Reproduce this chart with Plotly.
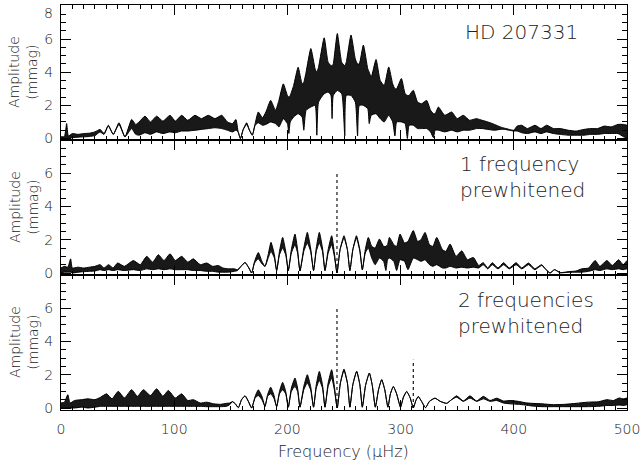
import plotly.graph_objects as go

# ---------------- data ----------------
# Each panel: frequency grid (muHz), upper and lower envelope of the amplitude (mmag)
p1_freq = [0, 3, 5, 6.5, 10, 15, 20, 25, 30, 34.5, 38, 41.8, 46.2, 51.2, 56.5, 62.4, 66, 69, 74.2, 79,
           84.5, 90, 96.3, 101, 106.6, 112, 118.4, 124, 130.2, 136, 142, 147, 151.5, 154.5, 156.5, 158.5,
           161, 164, 166.5, 169, 171.5, 174.3, 178, 181, 185.2, 189.5, 192.5, 196.4, 200, 201.3, 202.5,
           205.5, 209.5, 213, 214.5, 216.5, 220.7, 224.5, 226, 227.5, 232.5, 236, 238.5, 239.5, 240.5, 244.1,
           248, 250.7, 252, 256.2, 260, 262, 263.5, 267.1, 271, 272.3, 274, 278.3, 282, 285.5, 289.5, 293,
           295, 296.5, 300.7, 304, 306, 307.5, 311.2, 315, 318.5, 323, 326.5, 329, 330.5, 333.4, 339, 345.1,
           350, 355.4, 361, 367, 372, 377, 383, 388, 392, 396, 400, 403, 407, 412, 418.7, 424, 429, 435, 441,
           448, 455, 462, 468, 474, 480, 486, 492, 497, 500]
p1_upper = [0.10, 0.12, 0.90, 0.15, 0.30, 0.25, 0.30, 0.32, 0.40, 0.55, 0.30, 0.80, 0.25, 0.95, 0.10, 1.15,
            0.85, 1.00, 1.35, 1.00, 1.35, 1.05, 1.40, 1.05, 1.40, 1.10, 1.40, 1.20, 1.40, 1.20, 1.40, 1.00,
            0.90, 1.15, 0.40, 0.00, 0.55, 0.95, 0.50, 0.20, 0.90, 1.60, 1.25, 1.60, 2.30, 1.70, 2.30, 3.30,
            2.60, 2.50, 2.60, 3.20, 4.30, 3.30, 3.40, 4.00, 5.43, 4.20, 4.00, 4.30, 6.08, 4.60, 4.40, 4.40,
            4.50, 6.34, 4.60, 4.40, 4.60, 6.25, 4.80, 4.50, 4.50, 5.64, 4.20, 4.00, 3.70, 4.77, 3.50, 3.20,
            4.32, 3.30, 3.00, 3.00, 3.62, 2.70, 2.60, 2.60, 2.91, 2.20, 2.10, 2.30, 1.70, 1.50, 1.50, 1.90,
            1.40, 1.60, 1.20, 1.40, 1.10, 1.20, 1.10, 1.00, 0.85, 0.70, 0.62, 0.55, 0.50, 0.75, 0.80, 0.60,
            0.80, 0.60, 0.80, 0.60, 0.60, 0.50, 0.45, 0.55, 0.60, 0.60, 0.75, 0.70, 0.85, 0.85, 0.80]
p1_lower = [0.00, 0.00, 0.00, 0.00, 0.05, 0.08, 0.10, 0.12, 0.18, 0.40, 0.25, 0.75, 0.25, 0.85, 0.10, 0.60,
            0.25, 0.20, 0.35, 0.25, 0.40, 0.30, 0.40, 0.35, 0.45, 0.45, 0.50, 0.55, 0.60, 0.65, 0.60, 0.50,
            0.40, 0.50, 0.40, 0.00, 0.55, 0.85, 0.50, 0.20, 0.80, 0.95, 0.80, 0.85, 1.00, 0.90, 0.70, 1.20,
            0.90, 0.30, 1.00, 1.30, 1.50, 1.30, 0.50, 1.70, 1.90, 2.00, 0.20, 2.20, 2.70, 2.80, 2.60, 1.20,
            2.60, 2.90, 2.70, 0.15, 2.60, 2.60, 2.20, 0.15, 2.00, 2.00, 1.80, 0.90, 1.40, 1.50, 1.20, 1.00,
            1.40, 1.00, 0.15, 1.00, 1.00, 0.90, 0.00, 0.80, 0.80, 0.60, 0.60, 0.60, 0.40, 0.05, 0.50, 0.50,
            0.40, 0.50, 0.40, 0.50, 0.50, 0.60, 0.60, 0.55, 0.50, 0.55, 0.55, 0.50, 0.45, 0.45, 0.35, 0.30,
            0.40, 0.30, 0.40, 0.30, 0.25, 0.20, 0.20, 0.20, 0.25, 0.25, 0.30, 0.30, 0.30, 0.10, 0.00]

p2_freq = [0, 3, 6, 8.5, 10, 15, 20, 25, 30, 34.5, 38, 42, 46, 50, 56, 63.9, 70, 75.7, 81, 86, 91, 96.3,
           101, 106.6, 112, 116.9, 123, 128.7, 134, 139, 143, 148, 153, 156, 159, 162.6, 166, 168.4, 171,
           174.3, 177.5, 180.2, 183, 185.5, 188.5, 190.5, 193, 195.8, 198.5, 200.8, 203.5, 206.7, 209,
           211.1, 214.5, 217.6, 220.5, 223.1, 225.5, 228.2, 231, 233.2, 236, 239.1, 241.5, 243.8, 246.5,
           250, 253, 255.2, 257.8, 261, 264, 266.2, 268.8, 271.5, 274.5, 277.5, 281.3, 285, 287, 288.5,
           290.1, 294, 296.5, 299.5, 303.5, 306.5, 311.2, 315, 318, 321.6, 325.5, 328.5, 331.9, 337, 340,
           343.7, 349, 354, 359, 364.3, 369, 373, 377, 381, 386, 391, 396, 402, 407, 413, 418.5, 424.6,
           428.5, 432, 436, 441, 448, 455, 460, 466, 471.9, 476, 482.2, 487, 492.6, 496.5, 500]
p2_upper = [0.30, 0.40, 0.35, 0.85, 0.30, 0.35, 0.30, 0.35, 0.40, 0.50, 0.30, 0.50, 0.30, 0.60, 0.40, 0.75,
            0.50, 1.00, 0.65, 1.10, 0.75, 1.15, 0.75, 1.00, 0.65, 0.85, 0.50, 0.60, 0.40, 0.45, 0.30, 0.25,
            0.25, 0.20, 0.40, 0.63, 0.30, 0.00, 0.70, 1.23, 0.70, 0.40, 1.10, 1.84, 1.10, 0.15, 1.30, 2.14,
            1.30, 0.15, 1.40, 2.34, 1.40, 0.12, 1.50, 2.44, 1.50, 0.15, 1.50, 2.44, 1.50, 0.15, 1.40, 2.24,
            1.20, 0.00, 1.40, 2.24, 1.40, 0.15, 1.40, 2.24, 1.40, 0.20, 1.40, 2.14, 1.60, 1.50, 2.04, 1.60,
            1.60, 1.70, 2.14, 1.70, 1.60, 2.34, 1.80, 1.90, 2.55, 1.90, 2.00, 2.44, 1.70, 1.60, 2.14, 1.40,
            1.30, 1.74, 1.00, 1.33, 0.80, 0.93, 0.45, 0.62, 0.30, 0.62, 0.30, 0.62, 0.30, 0.62, 0.30, 0.60,
            0.25, 0.50, 0.20, 0.00, 0.20, 0.02, 0.08, 0.12, 0.25, 0.30, 0.75, 0.40, 0.75, 0.45, 0.80, 0.50,
            0.75]
p2_lower = [0.00, 0.05, 0.05, 0.05, 0.00, 0.05, 0.08, 0.10, 0.12, 0.20, 0.15, 0.20, 0.15, 0.20, 0.15, 0.20,
            0.15, 0.25, 0.20, 0.25, 0.20, 0.25, 0.20, 0.20, 0.20, 0.15, 0.15, 0.10, 0.10, 0.05, 0.05, 0.05,
            0.10, 0.15, 0.40, 0.63, 0.30, 0.00, 0.60, 0.85, 0.55, 0.40, 0.90, 1.30, 0.90, 0.15, 1.10, 1.50,
            1.10, 0.15, 1.20, 1.70, 1.20, 0.12, 1.30, 1.80, 1.30, 0.15, 1.30, 1.80, 1.30, 0.15, 1.20, 1.70,
            1.00, 0.00, 1.40, 2.10, 1.40, 0.15, 1.40, 2.10, 1.30, 0.20, 1.20, 1.50, 0.90, 0.50, 0.90, 0.70,
            0.15, 0.80, 0.90, 0.70, 0.15, 0.80, 0.70, 0.20, 0.90, 0.80, 0.70, 0.80, 0.50, 0.40, 0.50, 0.30,
            0.30, 0.40, 0.30, 0.35, 0.30, 0.35, 0.30, 0.50, 0.25, 0.50, 0.25, 0.50, 0.25, 0.50, 0.25, 0.50,
            0.20, 0.45, 0.20, 0.00, 0.20, 0.02, 0.04, 0.05, 0.05, 0.10, 0.20, 0.15, 0.25, 0.20, 0.25, 0.20,
            0.25]

p3_freq = [0, 3, 6, 8, 12, 18, 24, 30, 35, 40.3, 45, 50.6, 56, 62.4, 67.5, 72.8, 79, 84.5, 90, 94.8, 101,
           106.6, 112, 116.9, 123, 128.7, 135, 141, 146, 149, 151.4, 154, 156.7, 159.5, 162.6, 165.5, 168.4,
           171.5, 174.3, 177.5, 180.2, 182.5, 185.2, 188, 190.5, 193, 195.8, 198.5, 200.8, 203.5, 206.7, 209,
           211.1, 214.5, 217.6, 220.5, 223.1, 225.5, 228.2, 231, 233.2, 236, 239.1, 241.5, 244.0, 246.8, 250,
           253, 255.2, 257.8, 261.2, 264, 266.2, 269, 272.4, 275, 277.7, 280.5, 283.3, 286, 288.8, 291, 293.6,
           296.5, 299.9, 302.5, 305.4, 308.5, 311.2, 313.5, 315.6, 318.5, 322, 325.5, 330.4, 335, 340.7, 345,
           349.5, 355.4, 361.3, 367.2, 373.1, 379, 384.9, 390.8, 397, 404, 410, 416, 425, 435, 445, 455, 465,
           475, 482.2, 488, 493, 497, 500]
p3_upper = [0.30, 0.35, 0.80, 0.30, 0.45, 0.50, 0.55, 0.50, 0.65, 0.85, 0.55, 1.00, 0.60, 1.10, 0.70, 1.10,
            0.75, 1.15, 0.70, 1.05, 0.60, 0.85, 0.45, 0.50, 0.30, 0.35, 0.25, 0.22, 0.28, 0.30, 0.38, 0.25,
            0.02, 0.50, 0.73, 0.40, 0.00, 0.70, 1.09, 0.70, 0.10, 0.80, 1.25, 0.80, 0.08, 1.00, 1.54, 1.00,
            0.05, 1.20, 1.80, 1.20, 0.05, 1.30, 2.00, 1.30, 0.05, 1.40, 2.20, 1.40, 0.05, 1.50, 2.30, 1.30,
            0.00, 1.50, 2.34, 1.50, 0.05, 1.40, 2.20, 1.40, 0.05, 1.35, 2.10, 1.35, 0.05, 1.10, 1.70, 1.10,
            0.05, 0.85, 1.29, 0.85, 0.05, 0.65, 0.99, 0.60, 0.00, 0.45, 0.69, 0.40, 0.02, 0.40, 0.59, 0.40,
            0.28, 0.50, 0.73, 0.42, 0.73, 0.42, 0.70, 0.45, 0.59, 0.42, 0.45, 0.40, 0.32, 0.28, 0.25, 0.20,
            0.22, 0.28, 0.35, 0.38, 0.50, 0.45, 0.60, 0.55, 0.60]
p3_lower = [0.00, 0.00, 0.00, 0.00, 0.00, 0.05, 0.00, 0.05, 0.10, 0.10, 0.10, 0.10, 0.10, 0.10, 0.10, 0.10,
            0.10, 0.10, 0.10, 0.10, 0.10, 0.10, 0.10, 0.10, 0.10, 0.08, 0.08, 0.08, 0.10, 0.20, 0.38, 0.25,
            0.02, 0.50, 0.73, 0.40, 0.00, 0.60, 0.75, 0.50, 0.10, 0.70, 0.85, 0.60, 0.08, 0.85, 1.10, 0.85,
            0.05, 1.00, 1.30, 1.00, 0.05, 1.10, 1.50, 1.10, 0.05, 1.20, 1.65, 1.20, 0.05, 1.30, 1.80, 1.10,
            0.00, 1.50, 2.25, 1.50, 0.05, 1.40, 2.20, 1.40, 0.05, 1.35, 2.10, 1.35, 0.05, 1.10, 1.70, 1.10,
            0.05, 0.85, 1.29, 0.85, 0.05, 0.65, 0.99, 0.60, 0.00, 0.45, 0.69, 0.40, 0.02, 0.40, 0.59, 0.40,
            0.28, 0.50, 0.65, 0.40, 0.60, 0.40, 0.55, 0.40, 0.45, 0.30, 0.25, 0.22, 0.18, 0.12, 0.08, 0.08,
            0.08, 0.08, 0.08, 0.10, 0.15, 0.15, 0.18, 0.15, 0.20]

# prewhitened frequencies (dotted markers) and their marker heights per panel
prewhitened_freqs = [243.8, 311.2]
p2_marker_heights = [6.1]
p3_marker_heights = [6.1, 2.9]

panel_labels = ["HD 207331", "1 frequency<br>prewhitened", "2 frequencies<br>prewhitened"]
x_ticks = [0, 100, 200, 300, 400, 500]
y_ticks_top = [0, 2, 4, 6, 8]
y_ticktext_top = ["0", "2", "4", "6", ""]   # the "8" is written just below the top edge
y_ticks_low = [0, 2, 4, 6]

# ---------------- figure ----------------
FONT = "DejaVu Sans"
TXT = "#222222"
WEIGHT = 200
fig = go.Figure()

panels = [(p1_freq, p1_upper, p1_lower), (p2_freq, p2_upper, p2_lower), (p3_freq, p3_upper, p3_lower)]
for i, (f, up, lo) in enumerate(panels):
    xa = "x" if i == 0 else f"x{i+1}"
    ya = "y" if i == 0 else f"y{i+1}"
    ln = dict(color="black", width=1, shape="spline", smoothing=0.5)
    fig.add_trace(go.Scatter(x=f, y=lo, mode="lines", line=ln, xaxis=xa, yaxis=ya,
                             showlegend=False, hoverinfo="skip"))
    fig.add_trace(go.Scatter(x=f, y=up, mode="lines", line=ln, fill="tonexty",
                             fillcolor="rgba(0,0,0,0.9)", xaxis=xa, yaxis=ya,
                             showlegend=False, hoverinfo="skip"))

for heights, xa, ya in [(p2_marker_heights, "x2", "y2"), (p3_marker_heights, "x3", "y3")]:
    for fq, h in zip(prewhitened_freqs, heights):
        fig.add_trace(go.Scatter(x=[fq, fq], y=[0, h], mode="lines",
                                 line=dict(color="black", width=1.1, dash="dot"),
                                 xaxis=xa, yaxis=ya, showlegend=False, hoverinfo="skip"))

tickfont = dict(family=FONT, size=14, color=TXT, weight=WEIGHT)
common = dict(showline=True, linecolor="black", linewidth=1, mirror="allticks",
              ticks="inside", tickcolor="black", showgrid=False, zeroline=False,
              tickfont=tickfont, automargin=False)

layout = dict(width=642, height=465, margin=dict(l=61, r=15, t=5, b=55),
              paper_bgcolor="white", plot_bgcolor="white", showlegend=False)

doms = [[2/3, 1.0], [1/3, 2/3], [0.0, 1/3]]
yranges = [[-0.09, 8.06], [-0.12, 7.99], [-0.12, 7.99]]
for i in range(3):
    xk = "xaxis" if i == 0 else f"xaxis{i+1}"
    yk = "yaxis" if i == 0 else f"yaxis{i+1}"
    ya = "y" if i == 0 else f"y{i+1}"
    xa = "x" if i == 0 else f"x{i+1}"
    layout[xk] = dict(common, anchor=ya, domain=[0, 1], range=[0, 500],
                      tickmode="array", tickvals=x_ticks, ticklen=10,
                      showticklabels=(i == 2), ticklabelstandoff=6,
                      minor=dict(dtick=10, tick0=0, ticklen=4, ticks="inside",
                                 tickcolor="black", showgrid=False))
    ydef = dict(common, anchor=xa, domain=doms[i], range=yranges[i],
                tickmode="array", ticklen=10, ticklabelstandoff=4,
                minor=dict(dtick=0.5, tick0=0, ticklen=5, ticks="inside",
                           tickcolor="black", showgrid=False))
    if i == 0:
        ydef.update(tickvals=y_ticks_top, ticktext=y_ticktext_top)
    else:
        ydef.update(tickvals=y_ticks_low)
    layout[yk] = ydef
fig.update_layout(**layout)

# texts
ann = []
lab_font = dict(family=FONT, size=20, color=TXT, weight=WEIGHT)
ann.append(dict(text="8", xref="paper", yref="paper",
                x=(55 - 61) / 566, y=(410 - 13) / 405, xanchor="right", yanchor="middle",
                showarrow=False, font=tickfont))
ann.append(dict(text=panel_labels[0], xref="paper", yref="paper",
                x=(521.7 - 61) / 566, y=(410 - 31.8) / 405, xanchor="center", yanchor="middle",
                showarrow=False, font=lab_font))
ann.append(dict(text=panel_labels[1], xref="paper", yref="paper",
                x=(458 - 61) / 566, y=(410 - 177) / 405, xanchor="left", yanchor="middle",
                align="left", showarrow=False, font=lab_font))
ann.append(dict(text=panel_labels[2], xref="paper", yref="paper",
                x=(456 - 61) / 566, y=(410 - 313) / 405, xanchor="left", yanchor="middle",
                align="left", showarrow=False, font=lab_font))
for yc in [72.5, 207.5, 342.5]:
    ann.append(dict(text="Amplitude<br>(mmag)", xref="paper", yref="paper",
                    x=(23.5 - 61) / 566, y=(410 - yc) / 405, xanchor="center", yanchor="middle",
                    textangle=-90, showarrow=False,
                    font=dict(family=FONT, size=14, color=TXT, weight=WEIGHT)))
ann.append(dict(text="Frequency (μHz)", xref="paper", yref="paper",
                x=(343 - 61) / 566, y=(410 - 451.5) / 405, xanchor="center", yanchor="middle",
                showarrow=False, font=dict(family=FONT, size=16, color=TXT, weight=WEIGHT)))
fig.update_layout(annotations=ann)

fig.write_html("out.html")
